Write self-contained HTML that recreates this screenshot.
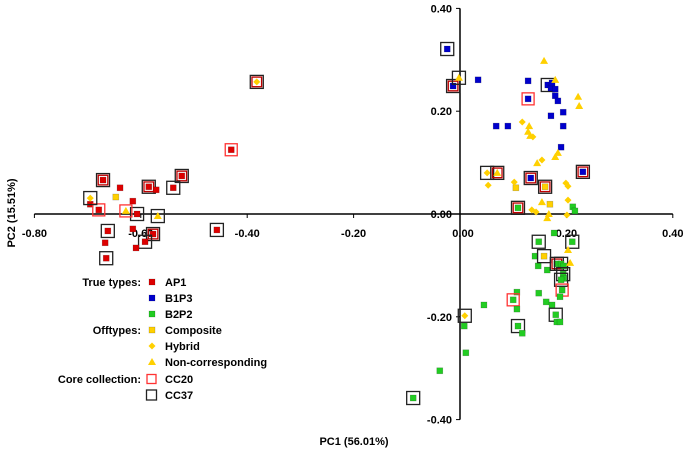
<!DOCTYPE html>
<html><head><meta charset="utf-8"><style>
body{margin:0;background:#fff}
svg text{font-family:"Liberation Sans",Arial,sans-serif;font-weight:bold;fill:#000}
</style></head><body>
<svg id="chart" width="686" height="452" viewBox="0 0 686 452" xmlns="http://www.w3.org/2000/svg">
<g id="axes"></g>
<g id="marks"></g>
<g id="legend"></g>
<text x="354" y="445" font-size="11" text-anchor="middle">PC1 (56.01%)</text>
<text transform="translate(15,213) rotate(-90)" font-size="11" text-anchor="middle">PC2 (15.51%)</text>
</svg>
<script>
// tick values
const xTicks=[-0.8,-0.6,-0.4,-0.2,0,0.2,0.4];
const yTicks=[0.4,0.2,0,-0.2,-0.4];
const xTickLabels=["-0.80","-0.60","-0.40","-0.20","0.00","0.20","0.40"];
const yTickLabels=["0.40","0.20","0.00","-0.20","-0.40"];
// [PC1, PC2, box] box: 0 none, 1 CC20, 2 CC37, 3 both
const ap1=[[-0.430,0.125,1],[-0.523,0.074,3],[-0.539,0.051,2],[-0.585,0.053,3],[-0.571,0.047,0],[-0.671,0.066,3],[-0.639,0.051,0],[-0.695,0.019,0],[-0.679,0.008,1],[-0.615,0.025,0],[-0.607,0.000,2],[-0.662,-0.033,2],[-0.615,-0.029,0],[-0.457,-0.031,2],[-0.577,-0.039,3],[-0.592,-0.054,2],[-0.667,-0.056,0],[-0.609,-0.066,0],[-0.665,-0.086,2]];
const b1p3=[[-0.024,0.321,2],[-0.013,0.249,3],[0.034,0.261,0],[0.128,0.259,0],[0.128,0.224,1],[0.165,0.251,2],[0.171,0.245,0],[0.173,0.255,0],[0.179,0.243,0],[0.179,0.230,0],[0.184,0.220,0],[0.171,0.191,0],[0.194,0.198,0],[0.068,0.171,0],[0.090,0.171,0],[0.194,0.171,0],[0.190,0.130,0],[0.133,0.070,3],[0.231,0.082,3]];
const b2p2=[[0.109,0.012,3],[0.212,0.014,0],[0.216,0.006,0],[0.177,-0.037,0],[0.148,-0.054,2],[0.211,-0.054,2],[0.141,-0.082,0],[0.147,-0.101,0],[0.164,-0.109,0],[0.182,-0.097,3],[0.190,-0.097,2],[0.195,-0.101,0],[0.194,-0.117,2],[0.195,-0.125,0],[0.190,-0.128,2],[0.192,-0.148,1],[0.188,-0.161,0],[0.148,-0.154,0],[0.162,-0.171,0],[0.173,-0.177,0],[0.180,-0.196,2],[0.182,-0.210,0],[0.188,-0.210,0],[0.107,-0.152,0],[0.100,-0.167,1],[0.107,-0.185,0],[0.109,-0.218,2],[0.117,-0.232,0],[0.045,-0.177,0],[0.008,-0.218,0],[0.011,-0.270,0],[-0.038,-0.305,0],[-0.088,-0.358,2]];
const composite=[[0.105,0.051,0],[0.169,0.019,0],[0.160,0.053,3],[0.158,-0.082,2],[-0.647,0.033,0]];
const hybrid=[[0.117,0.179,0],[0.137,0.150,0],[0.154,0.105,0],[0.051,0.080,2],[0.053,0.056,0],[0.102,0.062,0],[0.199,0.060,0],[0.203,0.054,0],[0.203,0.027,0],[0.135,0.008,0],[0.143,0.004,0],[0.201,-0.002,0],[0.009,-0.198,2],[-0.382,0.257,3],[-0.695,0.031,2]];
const noncorr=[[0.158,0.298,0],[0.179,0.261,0],[-0.002,0.265,2],[0.222,0.228,0],[0.224,0.210,0],[0.130,0.171,0],[0.128,0.160,0],[0.132,0.152,0],[0.184,0.119,0],[0.179,0.111,0],[0.145,0.099,0],[0.070,0.080,3],[0.154,0.023,0],[0.167,0.000,0],[0.164,-0.008,0],[0.203,-0.070,0],[0.207,-0.095,0],[-0.628,0.006,1],[-0.568,-0.004,2]];

const NS="http://www.w3.org/2000/svg";
const X=v=>460+532*v, Y=v=>214-514*v;
function mk(tag,attrs,parent){const e=document.createElementNS(NS,tag);for(const k in attrs)e.setAttribute(k,attrs[k]);parent.appendChild(e);return e;}
const axes=document.getElementById('axes'),marks=document.getElementById('marks'),legend=document.getElementById('legend');
let l=mk('line',{x1:X(-0.8),x2:X(0.4),y1:Y(0),y2:Y(0),stroke:'#000','stroke-width':1.5},axes);

l=mk('line',{x1:X(0),x2:X(0),y1:Y(0.4),y2:Y(-0.4),stroke:'#000','stroke-width':1.5},axes);

xTicks.forEach((v,i)=>{
 const t=mk('line',{x1:X(v),x2:X(v),y1:Y(0),y2:Y(0)+4,stroke:'#000','stroke-width':1},axes);
 
 const tx=mk('text',{x:X(v)+(v===0?3:0),y:Y(0)+23,'font-size':11,'text-anchor':'middle'},axes);tx.textContent=xTickLabels[i];
 
});
yTicks.forEach((v,i)=>{
 const t=mk('line',{x1:X(0)-4,x2:X(0),y1:Y(v),y2:Y(v),stroke:'#000','stroke-width':1},axes);
 
 const tx=mk('text',{x:X(0)-8,y:Y(v)+4,'font-size':11,'text-anchor':'end'},axes);tx.textContent=yTickLabels[i];
 
});
function marker(g,shape,color,x,y){
 let e;
 if(shape==='sq')e=mk('rect',{x:x-3,y:y-3,width:6,height:6,fill:color,stroke:'rgba(0,0,0,0.25)','stroke-width':0.6},g);
 else if(shape==='dia')e=mk('polygon',{points:`${x},${y-3.5} ${x+3.5},${y} ${x},${y+3.5} ${x-3.5},${y}`,fill:color},g);
 else e=mk('polygon',{points:`${x},${y-4} ${x+4},${y+3} ${x-4},${y+3}`,fill:color},g);
 return e;
}
function box(g,x,y,b){
 if(b&2){const r=mk('rect',{x:x-6.5,y:y-6.5,width:13,height:13,fill:'none',stroke:'#222','stroke-width':1.3},g);
  }
 if(b&1){const s=b&2?4.8:6;const r=mk('rect',{x:x-s,y:y-s,width:2*s,height:2*s,fill:'none',stroke:b&2?'#c00000':'#ff3333','stroke-width':1.3},g);
  }
}
const series=[[ap1,'sq','#dd0000','ap1-point'],[b1p3,'sq','#0000cc','b1p3-point'],[b2p2,'sq','#22cc22','b2p2-point'],[composite,'sq','#ffd000','composite-point'],[hybrid,'dia','#ffd000','hybrid-point'],[noncorr,'tri','#ffd000','noncorresponding-point']];
series.forEach(([arr,shape,color,name])=>{
 arr.forEach(p=>{
  const g=mk('g',{},marks);
  
  
  marker(g,shape,color,X(p[0]),Y(p[1]));
  box(g,X(p[0]),Y(p[1]),p[2]);
 });
});
// legend
const legRows=[["True types:","sq","#dd0000","AP1",0],["","sq","#0000cc","B1P3",0],["","sq","#22cc22","B2P2",0],["Offtypes:","sq","#ffd000","Composite",0],["","dia","#ffd000","Hybrid",0],["","tri","#ffd000","Non-corresponding",0],["Core collection:","box20","","CC20",0],["","box37","","CC37",0]];
const legY=[282,298,314,330,346,362,379,395];
legRows.forEach((r,i)=>{
 const g=mk('g',{},legend);
 
 
 const y=legY[i];
 if(r[0]){const t=mk('text',{x:141,y:y+4,'font-size':11,'text-anchor':'end'},g);t.textContent=r[0];}
 if(r[1]==='box20')mk('rect',{x:147,y:y-4.5,width:9,height:9,fill:'none',stroke:'#ff3333','stroke-width':1.3},g);
 else if(r[1]==='box37')mk('rect',{x:146.5,y:y-5,width:10,height:10,fill:'none',stroke:'#222','stroke-width':1.3},g);
 else marker(g,r[1],r[2],152,y);
 const t=mk('text',{x:165,y:y+4,'font-size':11},g);t.textContent=r[3];
});
</script>
</body></html>
